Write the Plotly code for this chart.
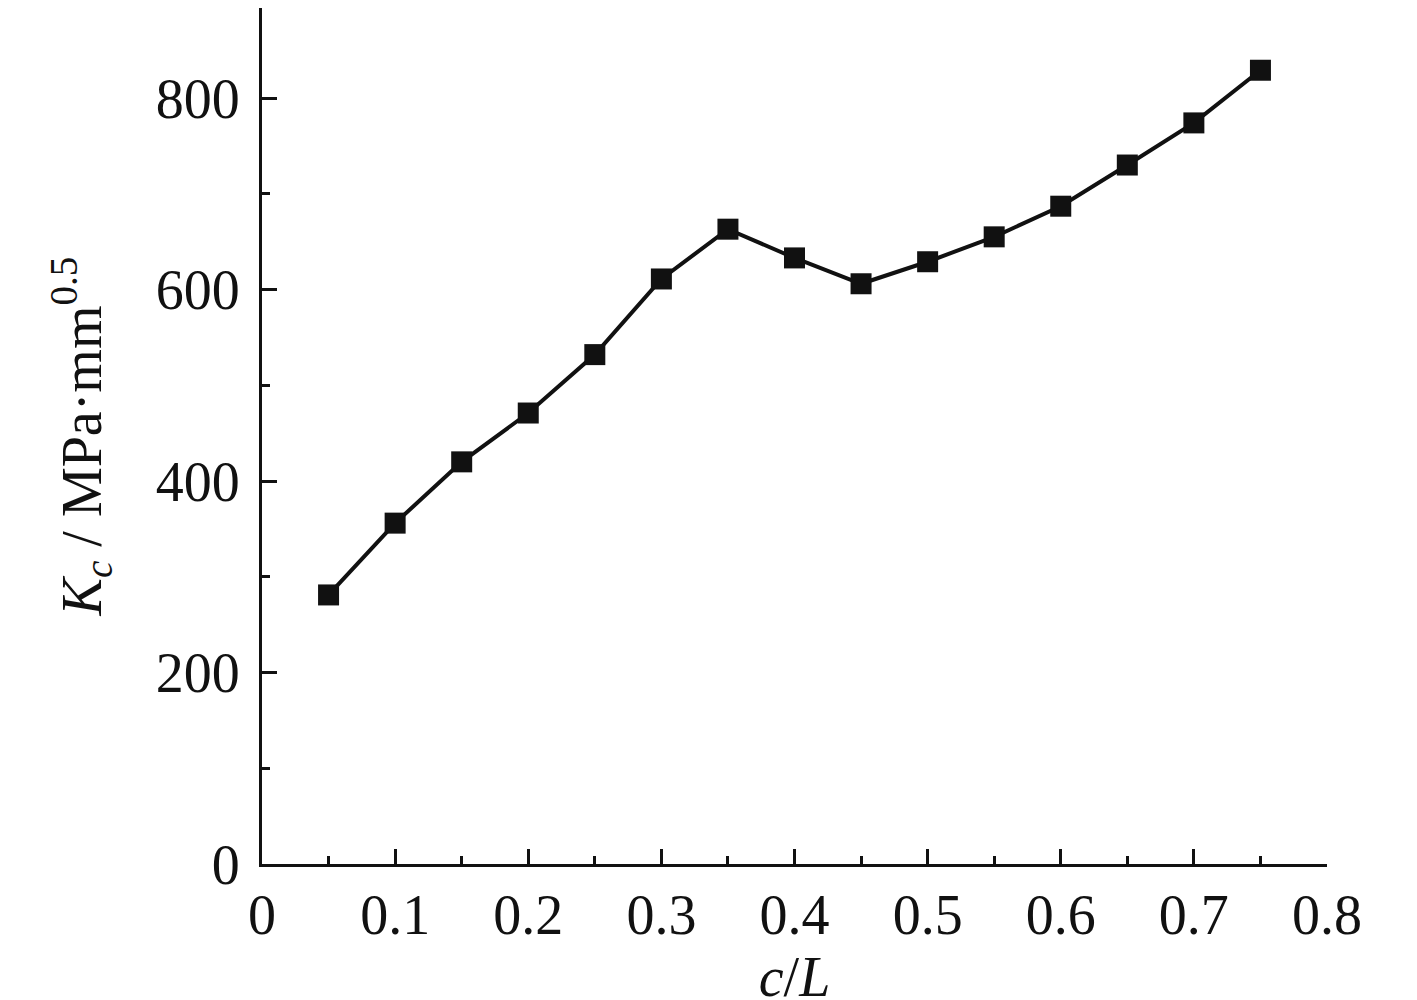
import plotly.graph_objects as go

BLACK = "#111111"
FONT = "Liberation Serif"

ratio = [0.05, 0.10, 0.15, 0.20, 0.25, 0.30, 0.35, 0.40, 0.45, 0.50, 0.55, 0.60, 0.65, 0.70, 0.75]
kc = [281, 356, 420, 471, 532, 611, 663, 633, 606, 629, 655, 687, 730, 774, 829]

x_ticks = [0, 0.1, 0.2, 0.3, 0.4, 0.5, 0.6, 0.7, 0.8]
x_labels = ["0", "0.1", "0.2", "0.3", "0.4", "0.5", "0.6", "0.7", "0.8"]
y_ticks = [0, 200, 400, 600, 800]
y_labels = ["0", "200", "400", "600", "800"]

fig = go.Figure(go.Scatter(
    x=ratio, y=kc,
    mode="lines+markers",
    line=dict(color=BLACK, width=4),
    marker=dict(symbol="square", size=21, color=BLACK),
    hoverinfo="skip",
))

axis_common = dict(
    showgrid=False, zeroline=False, automargin=False,
    showline=True, linecolor=BLACK, linewidth=3,
    ticks="inside", ticklen=15, tickwidth=3, tickcolor=BLACK,
    tickfont=dict(family=FONT, size=56, color=BLACK),
)

# page body adds an 8px offset, margins compensate for it
fig.update_layout(
    width=1417, height=1000,
    margin=dict(l=254, r=98, t=0, b=144),
    paper_bgcolor="white", plot_bgcolor="white",
    showlegend=False,
    xaxis=dict(
        axis_common,
        range=[0, 0.8],
        tickvals=x_ticks, ticktext=x_labels,
        minor=dict(dtick=0.05, tick0=0, ticks="inside", ticklen=8, tickwidth=3, tickcolor=BLACK),
        ticklabelstandoff=0,
        title=dict(text="<i>c</i>/<i>L</i>", font=dict(family=FONT, size=56, color=BLACK), standoff=0),
    ),
    yaxis=dict(
        axis_common,
        range=[0, 894],
        tickvals=y_ticks, ticktext=y_labels,
        minor=dict(dtick=100, tick0=0, ticks="inside", ticklen=8, tickwidth=3, tickcolor=BLACK),
        ticklabelstandoff=8,
        title=dict(text="<i>K<sub>c</sub></i> / MPa·mm<sup>0.5</sup>", font=dict(family=FONT, size=56, color=BLACK), standoff=37),
    ),
)

fig.write_html("out.html")
